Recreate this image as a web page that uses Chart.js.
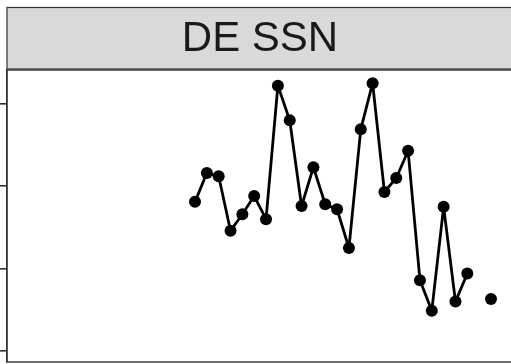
<!DOCTYPE html>
<html>
<head>
<meta charset="utf-8">
<script src="https://cdn.jsdelivr.net/npm/chart.js@4.4.1/dist/chart.umd.min.js"></script>
<style>
  html, body { margin: 0; padding: 0; background: #ffffff; }
  #wrap { width: 511px; height: 364px; position: relative; }
</style>
</head>
<body>
<div id="wrap"><canvas id="c"></canvas></div>
<script>
// Facet title and series
const panelTitle = "DE SSN";
const years = [1990, 1991, 1992, 1993, 1994, 1995, 1996, 1997, 1998, 1999,
               2000, 2001, 2002, 2003, 2004, 2005, 2006, 2007, 2008, 2009,
               2010, 2011, 2012, 2013, 2014, 2015];
const values = [1.81, 2.16, 2.12, 1.46, 1.66, 1.88, 1.60, 3.22, 2.80, 1.76,
                2.23, 1.78, 1.72, 1.25, 2.69, 3.25, 1.93, 2.10, 2.43, 0.86,
                0.49, 1.75, 0.60, 0.94, null, 0.63];
const yTicks = [0, 1, 2, 3];

const points = years.map((yr, i) => ({ x: yr, y: values[i] }));

// Grey facet strip above the panel plus the panel outline
const facetFrame = {
  id: 'facetFrame',
  afterDraw(chart) {
    const { ctx, chartArea: a } = chart;
    ctx.save();
    const stripTop = 7.5, stripBottom = a.top - 1;
    ctx.fillStyle = '#d9d9d9';
    ctx.fillRect(a.left, stripTop, a.right + 2 - a.left, stripBottom - stripTop);
    ctx.strokeStyle = '#333333';
    ctx.lineWidth = 1.2;
    ctx.strokeRect(a.left, stripTop, a.right + 2 - a.left, stripBottom - stripTop);
    ctx.fillStyle = '#1a1a1a';
    ctx.font = '42px "Liberation Sans", Arial, sans-serif';
    ctx.textAlign = 'center';
    ctx.textBaseline = 'middle';
    ctx.fillText(panelTitle, (a.left + a.right + 2) / 2, (stripTop + stripBottom) / 2 + 1);
    // panel border
    ctx.lineWidth = 1.4;
    ctx.strokeRect(a.left, a.top, a.right + 2 - a.left, a.bottom - a.top);
    ctx.restore();
  }
};

new Chart(document.getElementById('c'), {
  type: 'line',
  data: {
    datasets: [{
      data: points,
      borderColor: '#000000',
      backgroundColor: '#000000',
      borderWidth: 2.8,
      borderJoinStyle: 'round',
      borderCapStyle: 'round',
      pointRadius: 6,
      pointHoverRadius: 6,
      pointBorderWidth: 0,
      spanGaps: false,
      tension: 0
    }]
  },
  options: {
    responsive: true,
    maintainAspectRatio: false,
    animation: false,
    layout: { autoPadding: false, padding: { top: 70, bottom: 2, left: 0, right: 0 } },
    plugins: { legend: { display: false }, tooltip: { enabled: false } },
    scales: {
      x: {
        type: 'linear',
        display: false,
        min: 1974.12,
        max: 2016.69
      },
      y: {
        type: 'linear',
        min: -0.133,
        max: 3.41,
        afterBuildTicks(scale) { scale.ticks = yTicks.map(v => ({ value: v })); },
        afterFit(scale) { scale.width = 7; },
        ticks: { display: false },
        grid: {
          drawOnChartArea: false,
          drawTicks: true,
          tickLength: 7,
          color: '#333333',
          lineWidth: 1.6
        },
        border: { display: true, color: '#333333', width: 1.4 }
      }
    }
  },
  plugins: [facetFrame]
});
</script>
</body>
</html>
